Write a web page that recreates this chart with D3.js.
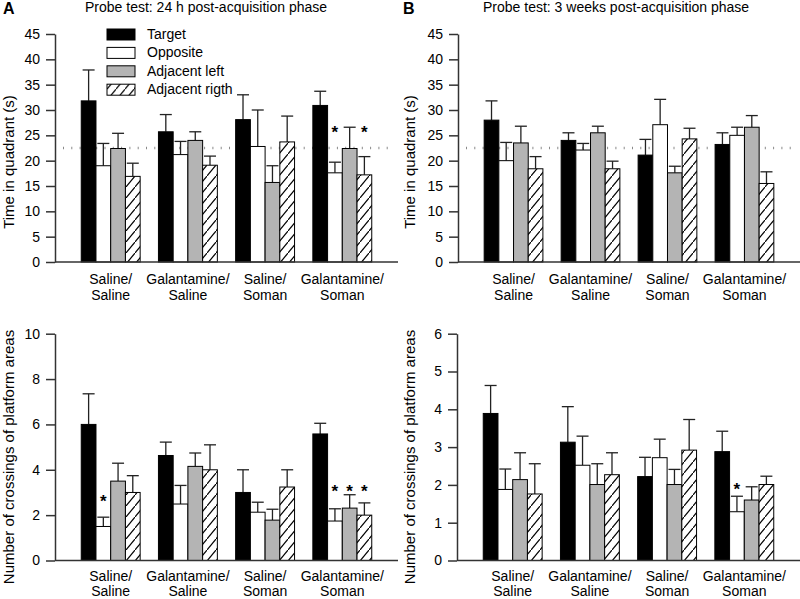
<!DOCTYPE html>
<html><head><meta charset="utf-8">
<script src="https://cdn.jsdelivr.net/npm/d3@7"></script>
<style>
html,body{margin:0;padding:0;background:#fff;}
svg{display:block;font-family:"Liberation Sans",Arial,sans-serif;}
</style></head>
<body>
<svg id="chart" width="800" height="599"></svg>
<script>
// ---- data ----
const groups = ["Saline/Saline", "Galantamine/Saline", "Saline/Soman", "Galantamine/Soman"];
const seriesNames = ["Target", "Opposite", "Adjacent left", "Adjacent rigth"];

// Panel A top: time in quadrant (s), 24 h
const timeA_target = [31.8, 25.7, 28.1, 30.9];
const timeA_opposite = [19.0, 21.2, 22.8, 17.6];
const timeA_adjLeft = [22.4, 24.0, 15.7, 22.4];
const timeA_adjRight = [16.9, 19.1, 23.7, 17.2];
const timeA_targetErr = [6.1, 3.4, 4.9, 2.8];
const timeA_oppositeErr = [4.4, 2.6, 7.2, 2.1];
const timeA_adjLeftErr = [3.0, 1.7, 3.3, 4.2];
const timeA_adjRightErr = [2.6, 1.8, 5.1, 3.6];

// Panel B top: time in quadrant (s), 3 weeks
const timeB_target = [28.0, 24.0, 21.1, 23.2];
const timeB_opposite = [20.0, 22.1, 27.1, 25.0];
const timeB_adjLeft = [23.5, 25.5, 17.6, 26.6];
const timeB_adjRight = [18.4, 18.4, 24.3, 15.5];
const timeB_targetErr = [3.8, 1.5, 3.1, 2.3];
const timeB_oppositeErr = [3.6, 1.3, 5.0, 1.6];
const timeB_adjLeftErr = [3.3, 1.3, 1.3, 2.3];
const timeB_adjRightErr = [2.4, 1.5, 2.1, 2.3];

// Panel A bottom: crossings, 24 h
const crossA_target = [6.0, 4.63, 3.0, 5.58];
const crossA_opposite = [1.5, 2.49, 2.13, 1.74];
const crossA_adjLeft = [3.5, 4.15, 1.78, 2.31];
const crossA_adjRight = [3.0, 4.0, 3.24, 2.0];
const crossA_targetErr = [1.35, 0.59, 1.0, 0.47];
const crossA_oppositeErr = [0.41, 0.82, 0.44, 0.54];
const crossA_adjLeftErr = [0.79, 0.59, 0.48, 0.59];
const crossA_adjRightErr = [0.74, 1.1, 0.76, 0.54];

// Panel B bottom: crossings, 3 weeks
const crossB_target = [3.89, 3.13, 2.22, 2.88];
const crossB_opposite = [1.88, 2.52, 2.72, 1.29];
const crossB_adjLeft = [2.14, 2.01, 2.01, 1.6];
const crossB_adjRight = [1.76, 2.27, 2.92, 2.01];
const crossB_targetErr = [0.74, 0.94, 0.51, 0.54];
const crossB_oppositeErr = [0.54, 0.77, 0.49, 0.41];
const crossB_adjLeftErr = [0.71, 0.55, 0.40, 0.35];
const crossB_adjRightErr = [0.8, 0.58, 0.81, 0.22];

// significance markers: group index, series index, height (data units)
const timeA_stars = [{g: 3, s: 1, y: 26.5}, {g: 3, s: 3, y: 26.5}];
const crossA_stars = [{g: 0, s: 1, y: 2.8}, {g: 3, s: 1, y: 3.25}, {g: 3, s: 2, y: 3.25}, {g: 3, s: 3, y: 3.25}];
const crossB_stars = [{g: 3, s: 1, y: 2.0}];

const timeTicks = [0, 5, 10, 15, 20, 25, 30, 35, 40, 45];
const crossATicks = [0, 2, 4, 6, 8, 10];
const crossBTicks = [0, 1, 2, 3, 4, 5, 6];
const chanceLevel = 22.5;

// ---- drawing ----
const svg = d3.select("#chart");
const FONT = 14;
const CAT_FONT = 14;
const YT_FONT = 15;
const defs = svg.append("defs");
const pat = defs.append("pattern").attr("id", "hatch").attr("patternUnits", "userSpaceOnUse")
  .attr("width", 9).attr("height", 11);
pat.append("rect").attr("width", 9).attr("height", 11).attr("fill", "#fff");
pat.append("path").attr("d", "M-1,12.2 L10,-1.2").attr("stroke", "#000").attr("stroke-width", 1.2);

const fills = ["#000", "#fff", "#b4b4b4", "url(#hatch)"];

function makeSeries(arrs, errs) {
  return groups.map((g, gi) => seriesNames.map((s, si) => ({g: gi, s: si, v: arrs[si][gi], e: errs[si][gi]})));
}

function panel(o) {
  const g = svg.append("g");
  const y = d3.scaleLinear().domain([0, o.yMax]).range([o.y0, o.y1]);
  const x = d3.scaleBand().domain(d3.range(groups.length)).range([o.ax, o.xEnd])
    .paddingInner(0.237).paddingOuter(0.34);
  const xs = d3.scaleBand().domain(d3.range(seriesNames.length)).range([0, x.bandwidth()]);

  // chance line
  if (o.ref != null) {
    g.append("line").attr("x1", o.ax + 8).attr("x2", o.xEnd - 3)
      .attr("y1", y(o.ref)).attr("y2", y(o.ref))
      .attr("stroke", "#8a8a8a").attr("stroke-width", 2.5).attr("stroke-dasharray", "1,7.3");
  }

  const data = makeSeries(o.vals, o.errs).flat();
  // error bars (upward)
  const eb = g.append("g").attr("stroke", "#222").attr("stroke-width", 1.3);
  data.forEach(d => {
    const cx = x(d.g) + xs(d.s) + xs.bandwidth() / 2;
    eb.append("line").attr("x1", cx).attr("x2", cx).attr("y1", y(d.v)).attr("y2", y(d.v + d.e));
    eb.append("line").attr("x1", cx - 6).attr("x2", cx + 6).attr("y1", y(d.v + d.e)).attr("y2", y(d.v + d.e));
  });
  // bars
  g.append("g").selectAll("rect").data(data).join("rect")
    .attr("x", d => x(d.g) + xs(d.s))
    .attr("y", d => y(d.v))
    .attr("width", xs.bandwidth())
    .attr("height", d => y(0) - y(d.v))
    .attr("fill", d => fills[d.s])
    .attr("stroke", "#000").attr("stroke-width", 1);

  // stars
  g.append("g").selectAll("text").data(o.stars || []).join("text")
    .attr("x", d => x(d.g) + xs(d.s) + xs.bandwidth() / 2)
    .attr("y", d => y(d.y) + 10)
    .attr("text-anchor", "middle").attr("font-size", 17).attr("font-weight", "bold")
    .text("*");

  // y axis
  const yAxis = d3.axisLeft(y).tickValues(o.ticks).tickFormat(d3.format("d"))
    .tickSize(9).tickPadding(6).tickSizeOuter(0);
  const ya = g.append("g").attr("transform", `translate(${o.ax},0)`).call(yAxis);
  ya.select(".domain").attr("stroke", "#333").attr("stroke-width", 1.5);
  ya.selectAll(".tick line").attr("stroke", "#333").attr("stroke-width", 1.5);
  ya.selectAll(".tick text").attr("font-size", FONT).attr("fill", "#000")
    .attr("font-family", "'Liberation Sans',Arial,sans-serif");

  // x axis baseline
  g.append("line").attr("x1", o.ax).attr("x2", o.xEnd).attr("y1", y(0)).attr("y2", y(0))
    .attr("stroke", "#333").attr("stroke-width", 1.5);

  // category labels
  const cl = g.append("g").selectAll("text").data(groups).join("text")
    .attr("text-anchor", "middle").attr("font-size", CAT_FONT);
  cl.each(function (d, i) {
    const parts = d.split("/");
    const t = d3.select(this);
    const cx = x(i) + x.bandwidth() / 2;
    t.append("tspan").attr("x", cx).attr("y", y(0) + o.lab1).text(parts[0] + "/");
    t.append("tspan").attr("x", cx).attr("y", y(0) + o.lab2).text(parts[1]);
  });

  // y title
  g.append("text").attr("transform", `translate(${o.titleX},${o.titleY}) rotate(-90)`)
    .attr("text-anchor", "middle").attr("font-size", YT_FONT).text(o.ylabel);
  return {x, y};
}

panel({ax: 55, xEnd: 398, y0: 262, y1: 34, yMax: 45, ticks: timeTicks, ref: chanceLevel,
  vals: [timeA_target, timeA_opposite, timeA_adjLeft, timeA_adjRight],
  errs: [timeA_targetErr, timeA_oppositeErr, timeA_adjLeftErr, timeA_adjRightErr],
  stars: timeA_stars, ylabel: "Time in quadrant (s)", titleX: 14, titleY: 162, lab1: 21.5, lab2: 38});
panel({ax: 458, xEnd: 800, y0: 262, y1: 34, yMax: 45, ticks: timeTicks, ref: chanceLevel,
  vals: [timeB_target, timeB_opposite, timeB_adjLeft, timeB_adjRight],
  errs: [timeB_targetErr, timeB_oppositeErr, timeB_adjLeftErr, timeB_adjRightErr],
  stars: [], ylabel: "Time in quadrant (s)", titleX: 415, titleY: 162, lab1: 21.5, lab2: 38});
panel({ax: 55, xEnd: 398, y0: 560.5, y1: 333.7, yMax: 10, ticks: crossATicks, ref: null,
  vals: [crossA_target, crossA_opposite, crossA_adjLeft, crossA_adjRight],
  errs: [crossA_targetErr, crossA_oppositeErr, crossA_adjLeftErr, crossA_adjRightErr],
  stars: crossA_stars, ylabel: "Number of crossings of platform areas", titleX: 14, titleY: 457, lab1: 20.5, lab2: 35});
panel({ax: 457, xEnd: 800, y0: 560.5, y1: 333.7, yMax: 6, ticks: crossBTicks, ref: null,
  vals: [crossB_target, crossB_opposite, crossB_adjLeft, crossB_adjRight],
  errs: [crossB_targetErr, crossB_oppositeErr, crossB_adjLeftErr, crossB_adjRightErr],
  stars: crossB_stars, ylabel: "Number of crossings of platform areas", titleX: 415, titleY: 457, lab1: 20.5, lab2: 35});

// panel letters and titles
svg.append("text").attr("x", 3).attr("y", 14).attr("font-size", 16).attr("font-weight", "bold").text("A");
svg.append("text").attr("x", 403).attr("y", 14).attr("font-size", 16).attr("font-weight", "bold").text("B");
svg.append("text").attr("x", 85).attr("y", 12).attr("font-size", FONT).text("Probe test: 24 h post-acquisition phase");
svg.append("text").attr("x", 483).attr("y", 12).attr("font-size", FONT).text("Probe test: 3 weeks post-acquisition phase");

// legend
const lg = svg.append("g").attr("transform", "translate(107,34)");
seriesNames.forEach((s, i) => {
  const row = lg.append("g").attr("transform", `translate(0,${i * 18.4})`);
  row.append("rect").attr("x", 0).attr("y", -5).attr("width", 28).attr("height", 11)
    .attr("fill", fills[i]).attr("stroke", "#000").attr("stroke-width", 1);
  row.append("text").attr("x", 40).attr("y", 5).attr("font-size", FONT).text(s);
});
</script>
</body></html>
